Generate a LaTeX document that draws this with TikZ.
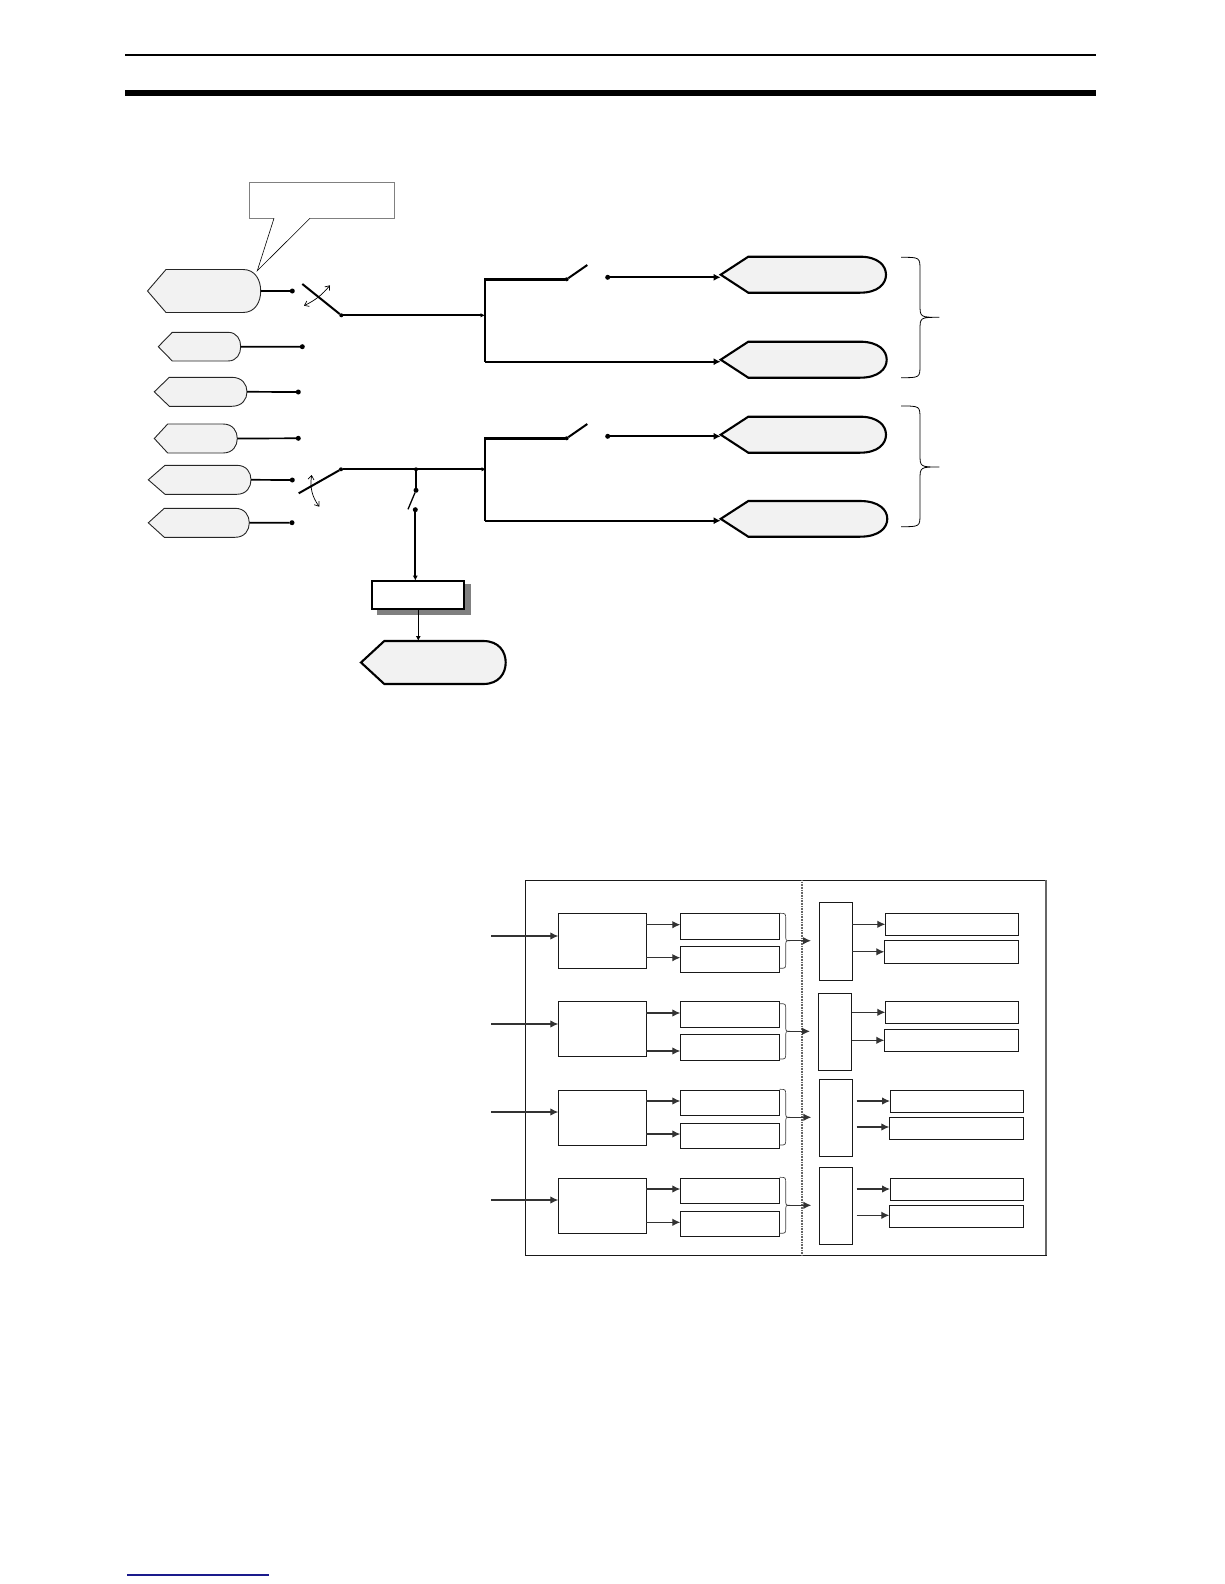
\documentclass[tikz,border=0pt]{standalone}
\usepackage{tikz}
\usetikzlibrary{arrows.meta}
\def\cornerbox[#1](#2)(#3,#4)(#5,#6){\node[#1, minimum width={(#5-#3)*1pt}, minimum height={(#6-#4)*1pt}] (#2) at ({(#3+#5)/2}, {(#4+#6)/2}) {};}
\def\dispshape[#1](#2)(#3,#4,#5,#6)(#7,#8){
	\draw[#1] (#3, {(#7+#8)/2}) -- (#4, #7) -- (#5, #7) .. controls ({#5+0.7*(#6-#5)}, #7) and (#6, {#7+0.25*(#8-#7)}) .. (#6, {(#7+#8)/2}) .. controls (#6, {#8-0.25*(#8-#7)}) and ({#5+0.7*(#6-#5)}, #8) .. (#5, #8) -- (#4, #8) -- cycle;
	\node[hidebox, minimum width={(#6-#3)*1pt}, minimum height={(#8-#7)*1pt}] (#2) at ({(#3+#6)/2}, {(#7+#8)/2}) {};
}
\def\curlybrace[#1](#2,#3,#4)(#5,#6,#7)(#8){\draw[#1] (#2, #5) .. controls (#3, #5) and (#3, #5) .. (#3, {#5+#8}) -- (#3, {#6-#8}) .. controls (#3, #6) and (#3, #6) .. (#4, #6) .. controls (#3, #6) and (#3, #6) .. (#3, {#6+#8}) -- (#3, {#7-#8}) .. controls (#3, #7) and (#3, #7) .. (#2, #7);}
\definecolor{dispgray}{HTML}{F2F2F2}
\definecolor{footblue}{HTML}{1A1A8C}
\tikzset{
	hidebox/.style={inner sep=0, outer sep=0, draw=none},
	dispthin/.style={line width=0.9pt, fill=dispgray, draw=black!85},
	dispthick/.style={line width=2.1pt, fill=dispgray, draw=black},
	dot/.style={circle, fill=black, inner sep=0, outer sep=0, minimum size=5pt},
	smalldot/.style={circle, fill=black, inner sep=0, outer sep=0, minimum size=4pt},
	feed/.style={line width=1.7pt},
	blade/.style={line width=2pt},
	feedarrow/.style={line width=1.9pt, -{Latex[length=7pt, width=7pt]}},
	tinyarrow/.style={line width=1.8pt, -{Latex[length=4.5pt, width=4.5pt]}},
	swing/.style={line width=0.7pt, {Straight Barb[length=4pt, width=6pt]}-{Straight Barb[length=4pt, width=6pt]}},
	blockbox/.style={draw=black!90, line width=0.9pt, inner sep=0, outer sep=0},
	blockarrow/.style={line width=1.2pt, color=black!80, -{Latex[length=8pt, width=7.5pt]}},
	bracket/.style={line width=0.7pt, color=black!75}
}

\begin{document}
\begin{tikzpicture}[x=1pt, y=-1pt]
			%%%%% START %%%%%
			\useasboundingbox (0, 0) rectangle (1224, 1584);
			
			\draw[line width=1.2pt] (125, 55) -- (1096, 55);
			\draw[fill=black, draw=none] (125, 90) rectangle (1096, 96);
			
			\draw[line width=0.9pt, color=black!50] (274, 218.3) -- (249.3, 218.3) -- (249.3, 182.7) -- (394.3, 182.7) -- (394.3, 218.3) -- (310, 218.3);
			\draw[line width=0.6pt] (274, 218.3) -- (257.3, 270.7) -- (310, 218.3);
			
			\dispshape[dispthin](srcA)(147.5,166,243,260.7)(269.5,312.5);
			\dispshape[dispthin](srcB)(158.3,172.3,228,240.7)(332.3,361);
			\dispshape[dispthin](srcC)(154.3,169.3,231.7,247)(377.3,406.3);
			\dispshape[dispthin](srcD)(154.3,167.7,223,237.3)(424,453);
			\dispshape[dispthin](srcE)(148.3,165,236.7,251)(465.3,494.3);
			\dispshape[dispthin](srcF)(148.3,164.3,235,249.3)(508.3,537.3);
			
			\node[dot] (tapA) at (292.3, 291) {};
			\node[dot] (tapB) at (302.3, 346.7) {};
			\node[dot] (tapC) at (298.3, 392) {};
			\node[dot] (tapD) at (298.3, 438.3) {};
			\node[dot] (tapE) at (292.3, 480) {};
			\node[dot] (tapF) at (292, 522.7) {};
			\draw[feed] (srcA.east) -- (tapA);
			\draw[feed] (srcB.east) -- (tapB);
			\draw[feed] (srcC.east) -- (tapC);
			\draw[feed] (srcD.east) -- (tapD);
			\draw[feed] (srcE.east) -- (tapE);
			\draw[feed] (srcF.east) -- (tapF);
			
			% upper selector
			\node[smalldot] (pivotA) at (341.3, 315.3) {};
			\coordinate (bladeA) at (302.3, 284);
			\coordinate (swingA1) at (304, 305.7);
			\coordinate (swingA2) at (330, 285.3);
			\coordinate (splitA) at (485, 315.3);
			\draw[blade] (bladeA) -- (pivotA);
			\draw[swing] (swingA1) to[bend right=12] (swingA2);
			\draw[tinyarrow] (pivotA) -- (splitA);
			
			\node[smalldot] (closeA) at (566.7, 279.3) {};
			\coordinate (openA) at (587.3, 265);
			\node[dot] (contactA) at (607.7, 277.3) {};
			\draw[line width=2.6pt] (closeA) -- (485, 279.3);
			\draw[line width=1.9pt] (485, 278) -- (485, 361.7) coordinate (lowA);
			\draw[blade] (closeA) -- (openA);
			
			% lower selector
			\node[smalldot] (pivotB) at (341, 469.3) {};
			\coordinate (bladeB) at (298.7, 493.3);
			\coordinate (swingB1) at (311.7, 475);
			\coordinate (swingB2) at (319.3, 506.7);
			\coordinate (splitB) at (486, 469.3);
			\draw[blade] (bladeB) -- (pivotB);
			\draw[swing] (swingB1) to[bend right=22] (swingB2);
			\draw[tinyarrow] (pivotB) -- (splitB);
			
			\node[smalldot] (closeB) at (566.7, 438.3) {};
			\coordinate (openB) at (587.3, 424);
			\node[dot] (contactB) at (607.7, 436.3) {};
			\draw[line width=2.6pt] (closeB) -- (485, 438.3);
			\draw[line width=1.9pt] (485, 437) -- (485, 520.7) coordinate (lowB);
			\draw[blade] (closeB) -- (openB);
			
			\dispshape[dispthick](outA)(720.7,748.3,860,886)(256.7,292.7);
			\dispshape[dispthick](outB)(720.7,748.3,860,886.7)(341.7,377.7);
			\dispshape[dispthick](outC)(720.7,748.3,860,886)(416.7,452.7);
			\dispshape[dispthick](outD)(720.7,748.3,860,887.3)(501,536.7);
			
			\draw[feedarrow] (contactA) -- (outA.west |- contactA);
			\draw[feedarrow] (lowA) -- (outB.west |- lowA);
			\draw[feedarrow] (contactB) -- (outC.west |- contactB);
			\draw[feedarrow] (lowB) -- (outD.west |- lowB);
			
			\curlybrace[line width=0.8pt](901,920,939.3)(257.3,317.3,377.7)(13);
			\curlybrace[line width=0.8pt](901,920,939.3)(406,467,526.7)(13);
			
			% tap to the lower block
			\node[smalldot] (tapG) at (416, 469.3) {};
			\node[dot] (closeG) at (416, 490.3) {};
			\node[dot] (contactG) at (415.3, 509.7) {};
			\coordinate (openG) at (408, 509.3);
			\draw[line width=1.9pt] (tapG) -- (closeG);
			\draw[line width=1.3pt] (closeG) -- (openG);
			
			\draw[draw=none, fill=black!50] (377, 584) rectangle (471, 614.7);
			\cornerbox[draw, line width=1.8pt, fill=white, inner sep=0, outer sep=0](convG)(371.7,580.7)(464.3,609.3);
			\draw[line width=1.9pt, -{Latex[length=5pt, width=5pt]}] (contactG) -- (contactG |- convG.north);
			\dispshape[dispthick](outG)(361,384.3,483.3,505.7)(641,684);
			\draw[line width=1.3pt, -{Latex[length=5pt, width=5pt]}] (convG.south -| 418.3,0) -- (outG.north -| 418.3,0);
			
			% lower block
			\cornerbox[blockbox](frameBox)(525.3,880.3)(1046,1255.3);
			\draw[line width=1.6pt, color=black!60] (frameBox.north east) -- (frameBox.south east);
			\draw[line width=1.2pt, color=black!60, dash pattern=on 1pt off 0.6pt] (frameBox.north -| 802,0) -- (frameBox.south -| 802,0);
			
			\cornerbox[blockbox](inA)(558.3,913.3)(646.3,968.3);
			\cornerbox[blockbox](inB)(558.3,1001.3)(646.3,1056.3);
			\cornerbox[blockbox](inC)(558.3,1090.3)(646.3,1145.3);
			\cornerbox[blockbox](inD)(558.3,1178.3)(646.3,1233.3);
			
			\cornerbox[blockbox](subA1)(680.3,913.3)(779.7,939.3);
			\cornerbox[blockbox](subA2)(680.3,946.3)(779.7,972.3);
			\cornerbox[blockbox](subB1)(680.3,1001.3)(779.7,1027.3);
			\cornerbox[blockbox](subB2)(680.3,1034.3)(779.7,1060.3);
			\cornerbox[blockbox](subC1)(680.3,1090.3)(779.7,1115.3);
			\cornerbox[blockbox](subC2)(680.3,1123.3)(779.7,1148.3);
			\cornerbox[blockbox](subD1)(680.3,1178.3)(779.7,1203.3);
			\cornerbox[blockbox](subD2)(680.3,1211.3)(779.7,1236.3);
			
			\cornerbox[blockbox](muxA)(819.3,902.3)(852.3,980.3);
			\cornerbox[blockbox](muxB)(818.3,993.3)(851.7,1070.3);
			\cornerbox[blockbox](muxC)(819.3,1079.3)(852.7,1156.3);
			\cornerbox[blockbox](muxD)(819.3,1167.3)(852.7,1244.3);
			
			\cornerbox[blockbox](endA1)(885.3,913.3)(1018.7,935.3);
			\cornerbox[blockbox](endA2)(884.3,940.3)(1018.7,963.3);
			\cornerbox[blockbox](endB1)(885.3,1001.3)(1018.7,1023.3);
			\cornerbox[blockbox](endB2)(884.3,1029.3)(1018.7,1051.3);
			\cornerbox[blockbox](endC1)(890,1090.3)(1023.7,1112.3);
			\cornerbox[blockbox](endC2)(889.3,1117.3)(1023.7,1139.3);
			\cornerbox[blockbox](endD1)(890,1178.3)(1023.7,1200.3);
			\cornerbox[blockbox](endD2)(889.3,1205.3)(1023.7,1227.3);
			
			\coordinate (feedA) at (491.3, 936);
			\coordinate (feedB) at (491.3, 1024);
			\coordinate (feedC) at (491.3, 1112);
			\coordinate (feedD) at (491.3, 1200);
			\draw[blockarrow] (feedA) -- (inA.west |- feedA);
			\draw[blockarrow] (feedB) -- (inB.west |- feedB);
			\draw[blockarrow] (feedC) -- (inC.west |- feedC);
			\draw[blockarrow] (feedD) -- (inD.west |- feedD);
			
			\coordinate (stubA1) at ([yshift=1.6pt]subA1.west);
			\coordinate (stubA2) at ([yshift=1.6pt]subA2.west);
			\coordinate (stubB1) at ([yshift=1.3pt]subB1.west);
			\coordinate (stubB2) at ([yshift=-3.7pt]subB2.west);
			\coordinate (stubC1) at ([yshift=1.8pt]subC1.west);
			\coordinate (stubC2) at ([yshift=1.8pt]subC2.west);
			\coordinate (stubD1) at ([yshift=1.8pt]subD1.west);
			\coordinate (stubD2) at ([yshift=1.5pt]subD2.west);
			\draw[blockarrow] (inA.east |- stubA1) -- (stubA1);
			\draw[blockarrow] (inA.east |- stubA2) -- (stubA2);
			\draw[blockarrow] (inB.east |- stubB1) -- (stubB1);
			\draw[blockarrow] (inB.east |- stubB2) -- (stubB2);
			\draw[blockarrow] (inC.east |- stubC1) -- (stubC1);
			\draw[blockarrow] (inC.east |- stubC2) -- (stubC2);
			\draw[blockarrow] (inD.east |- stubD1) -- (stubD1);
			\draw[blockarrow] (inD.east |- stubD2) -- (stubD2);
			
			\curlybrace[bracket](779.7,785.7,790)(913.3,940.7,968.3)(6);
			\curlybrace[bracket](779.7,785.7,790)(1003.7,1031.3,1059)(6);
			\curlybrace[bracket](779.7,785.7,790)(1089.3,1117.3,1145)(6);
			\curlybrace[bracket](779.7,785.7,790)(1177.3,1205.3,1233.3)(6);
			
			\coordinate (joinA) at (788, 940.7);
			\coordinate (joinB) at (788, 1031.3);
			\coordinate (joinC) at (788, 1117.3);
			\coordinate (joinD) at (788, 1205.3);
			\coordinate (gateA) at (811, 940.7);
			\coordinate (gateB) at (810, 1031.3);
			\coordinate (gateC) at (811.3, 1117.3);
			\coordinate (gateD) at (811.3, 1205.3);
			\draw[blockarrow] (joinA) -- (gateA);
			\draw[blockarrow] (joinB) -- (gateB);
			\draw[blockarrow] (joinC) -- (gateC);
			\draw[blockarrow] (joinD) -- (gateD);
			
			\draw[blockarrow] (muxA.east |- endA1) -- (endA1);
			\draw[blockarrow] (muxA.east |- endA2) -- (endA2);
			\draw[blockarrow] (muxB.east |- endB1) -- (endB1);
			\draw[blockarrow] (muxB.east |- endB2) -- (endB2);
			
			\coordinate (railC1) at (856.7, 1101);
			\coordinate (railC2) at (856.7, 1127);
			\coordinate (railD1) at (856.7, 1189);
			\coordinate (railD2) at (856.7, 1215.3);
			\draw[blockarrow] (railC1) -- (endC1.west |- railC1);
			\draw[blockarrow] (railC2) -- (endC2.west |- railC2);
			\draw[blockarrow] (railD1) -- (endD1.west |- railD1);
			\draw[blockarrow] (railD2) -- (endD2.west |- railD2);
			
			\draw[line width=1.3pt, color=footblue] (127.3, 1575) -- (268.7, 1575);
			
			%%%%% END %%%%%
		\end{tikzpicture}
\end{document}
